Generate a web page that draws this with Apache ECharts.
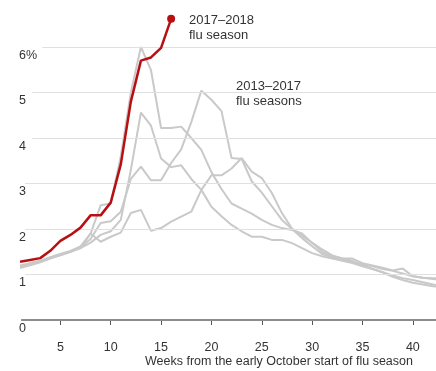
<!DOCTYPE html>
<html><head><meta charset="utf-8">
<script src="https://cdn.jsdelivr.net/npm/echarts@6/dist/echarts.min.js"></script>
<style>html,body{margin:0;padding:0;background:#fff}#c{width:436px;height:371px}</style>
</head><body><div id="c"></div><script>
// ---- data ----
const weeks = [1,2,3,4,5,6,7,8,9,10,11,12,13,14,15,16,17,18,19,20,21,22,23,24,25,26,27,28,29,30,31,32,33,34,35,36,37,38,39,40,41,42,43];
const season2017_18 = [1.28,1.32,1.36,1.52,1.74,1.87,2.03,2.30,2.30,2.58,3.42,4.80,5.70,5.77,5.98,6.62];
const pastSeasonA = [1.20,1.25,1.30,1.38,1.45,1.52,1.62,1.90,2.52,2.56,3.60,5.00,6.00,5.49,4.22,4.22,4.25,4.00,3.74,3.25,2.88,2.56,2.45,2.34,2.20,2.09,2.02,1.98,1.90,1.69,1.50,1.40,1.35,1.30,1.20,1.12,1.05,0.98,0.92,0.88,0.83,0.78,0.75];
const pastSeasonB = [1.18,1.24,1.30,1.37,1.44,1.50,1.60,1.78,2.13,2.17,2.38,3.10,3.37,3.07,3.07,3.45,3.75,4.35,5.04,4.84,4.59,3.56,3.54,3.05,2.80,2.50,2.20,2.00,1.80,1.62,1.45,1.38,1.33,1.28,1.22,1.18,1.12,1.08,1.02,0.96,0.93,0.90,0.88];
const pastSeasonC = [1.16,1.22,1.28,1.36,1.42,1.50,1.58,1.90,1.72,1.83,1.92,2.35,2.42,1.96,2.02,2.16,2.27,2.38,2.86,3.18,3.18,3.33,3.56,3.26,3.12,2.79,2.35,2.01,1.85,1.70,1.55,1.42,1.35,1.35,1.25,1.20,1.15,1.09,1.13,0.96,0.93,0.92,0.91];
const pastSeasonD = [1.14,1.20,1.27,1.35,1.43,1.50,1.58,1.70,1.87,1.95,2.20,3.30,4.56,4.27,3.55,3.36,3.40,3.10,2.86,2.49,2.28,2.09,1.95,1.83,1.83,1.76,1.76,1.69,1.58,1.47,1.40,1.35,1.30,1.25,1.18,1.12,1.05,0.95,0.88,0.82,0.78,0.74,0.72];
const xTicks = [5,10,15,20,25,30,35,40];
const xTickLabels = ['5','10','15','20','25','30','35','40'];
const yTicks = [0,1,2,3,4,5,6];
const yTickLabels = ['0','1','2','3','4','5','6%'];
const redLabel = '2017–2018\nflu season';
const grayLabel = '2013–2017\nflu seasons';
const xAxisName = 'Weeks from the early October start of flu season';

// ---- styling ----
const FONT = '"Liberation Sans", Arial, sans-serif';
const RED = '#b80f12';
const GRAY = '#c9c9c9';
// where each horizontal gridline starts (in week units), leaves room for its label
const gridStart = {1:1.5, 2:1.5, 3:1.5, 4:2.2, 5:2.2, 6:3.2};
const X_MAX = 42.3;

const pairs = arr => arr.map((v, i) => [weeks[i], v]);

const gridLines = yTicks.filter(v => v > 0).map(v => [
  {coord: [gridStart[v], v], lineStyle: {color: '#e0e0e0', width: 1, type: 'solid'}},
  {coord: [X_MAX, v]}
]);
gridLines.push([
  {coord: [1.1, 0], lineStyle: {color: '#8c8c8c', width: 2, type: 'solid'}},
  {coord: [X_MAX, 0]}
]);

const grayStyle = {color: GRAY, width: 2};
function graySeries(arr) {
  return {type: 'line', data: pairs(arr), showSymbol: false, symbol: 'none',
    lineStyle: grayStyle, itemStyle: {color: GRAY}, z: 3, silent: true, clip: true};
}

const chart = echarts.init(document.getElementById('c'), null, {renderer: 'canvas'});
const lastRed = season2017_18.length - 1;
chart.setOption({
  animation: false,
  backgroundColor: '#fff',
  textStyle: {fontFamily: FONT},
  grid: {left: 10, right: 0, top: 1.5, bottom: 51, containLabel: false},
  title: [
    {text: redLabel, left: 189, top: 13, padding: 0,
     textStyle: {fontFamily: FONT, fontSize: 13, fontWeight: 'normal', color: '#333', lineHeight: 15}},
    {text: grayLabel, left: 236, top: 79, padding: 0,
     textStyle: {fontFamily: FONT, fontSize: 13, fontWeight: 'normal', color: '#333', lineHeight: 15}},
    {text: xAxisName, left: 145, top: 355, padding: 0,
     textStyle: {fontFamily: FONT, fontSize: 12.5, fontWeight: 'normal', color: '#333'}}
  ],
  xAxis: {
    type: 'value', min: 0, max: X_MAX, offset: 4,
    axisLine: {show: false},
    splitLine: {show: false},
    axisTick: {show: true, customValues: xTicks, length: 5, lineStyle: {color: '#555', width: 1}},
    axisLabel: {customValues: xTicks, margin: 17, fontFamily: FONT, fontSize: 12.5, color: '#333',
      formatter: v => xTickLabels[xTicks.indexOf(v)]}
  },
  yAxis: {
    type: 'value', min: 0, max: 7,
    axisLine: {show: false}, axisTick: {show: false}, splitLine: {show: false},
    axisLabel: {inside: true, customValues: yTicks, margin: 9, verticalAlign: 'top',
      padding: [2, 0, 0, 0], fontFamily: FONT, fontSize: 12.5, color: '#333',
      formatter: v => yTickLabels[yTicks.indexOf(v)]}
  },
  series: [
    {type: 'line', data: [], silent: true, z: 1,
     markLine: {silent: true, symbol: ['none', 'none'], label: {show: false}, animation: false,
       data: gridLines}},
    graySeries(pastSeasonA),
    graySeries(pastSeasonB),
    graySeries(pastSeasonC),
    graySeries(pastSeasonD),
    {type: 'line', data: pairs(season2017_18), symbol: 'circle',
     symbolSize: (val, p) => p.dataIndex === lastRed ? 8 : 0,
     showSymbol: true, lineStyle: {color: RED, width: 2.5}, itemStyle: {color: RED},
     z: 5, silent: true}
  ]
});
</script></body></html>
